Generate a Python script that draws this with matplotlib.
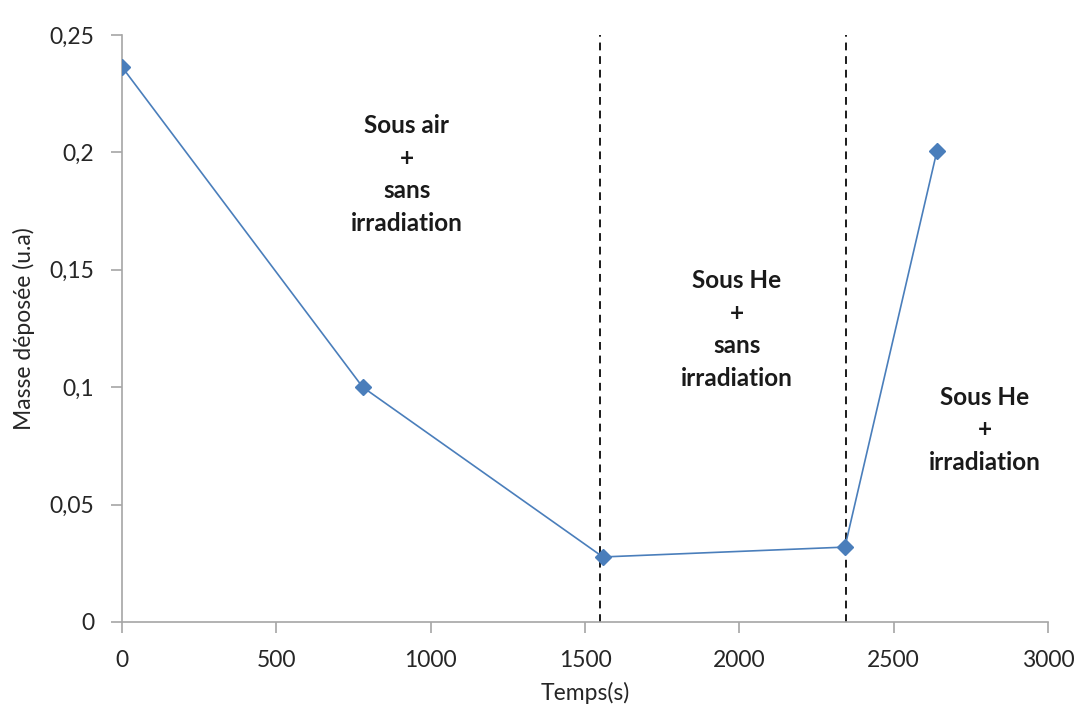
import matplotlib
matplotlib.use("Agg")
import matplotlib.pyplot as plt

temps = [0, 780, 1558, 2342, 2640]
masse = [0.2364, 0.1, 0.0277, 0.0319, 0.2005]
vlines = [1550, 2347]
xticks = [0, 500, 1000, 1500, 2000, 2500, 3000]
yticks = [0, 0.05, 0.1, 0.15, 0.2, 0.25]
ytick_labels = ["0", "0,05", "0,1", "0,15", "0,2", "0,25"]
annotations = [
    ("Sous air\n+\nsans\nirradiation", 923, 0.1905),
    ("Sous He\n+\nsans\nirradiation", 1992, 0.1245),
    ("Sous He\n+\nirradiation", 2796, 0.0818),
]

plt.rcParams['font.family'] = ['Lato', 'DejaVu Sans']
fig = plt.figure(figsize=(10.8, 7.07), dpi=100)
ax = fig.add_axes([122/1080, 85/707, (1048-122)/1080, (622-35)/707])

ax.plot(temps, masse, color='#4A7EBB', linewidth=1.2, marker='D', markersize=8,
        markerfacecolor='#4A7EBB', markeredgecolor='#4A7EBB', zorder=3)
for v in vlines:
    ax.axvline(v, color='#1a1a1a', linestyle=(0, (4, 3)), linewidth=1.4, zorder=2)

ax.set_xlim(0, 3000)
ax.set_ylim(0, 0.25)
ax.set_xticks(xticks)
ax.set_yticks(yticks)
ax.set_yticklabels(ytick_labels)
for s in ['top', 'right']:
    ax.spines[s].set_visible(False)
for s in ['left', 'bottom']:
    ax.spines[s].set_color('#A6A6A6')
    ax.spines[s].set_linewidth(1.2)
ax.tick_params(axis='both', direction='out', length=8, width=1.2, color='#A6A6A6',
               labelsize=16.5, labelcolor='#262626')
ax.tick_params(axis='x', pad=12)
ax.tick_params(axis='y', pad=12)
ax.set_xlabel("Temps(s)", fontsize=16.5, color='#262626', labelpad=8)
ax.set_ylabel("Masse déposée (u.a)", fontsize=16.5, color='#262626', labelpad=10)

for txt, x, y in annotations:
    ax.text(x, y, txt, ha='center', va='center', fontsize=17.5, fontweight='bold',
            color='#1a1a1a', linespacing=1.5)

fig.savefig("out.png", dpi=100)
